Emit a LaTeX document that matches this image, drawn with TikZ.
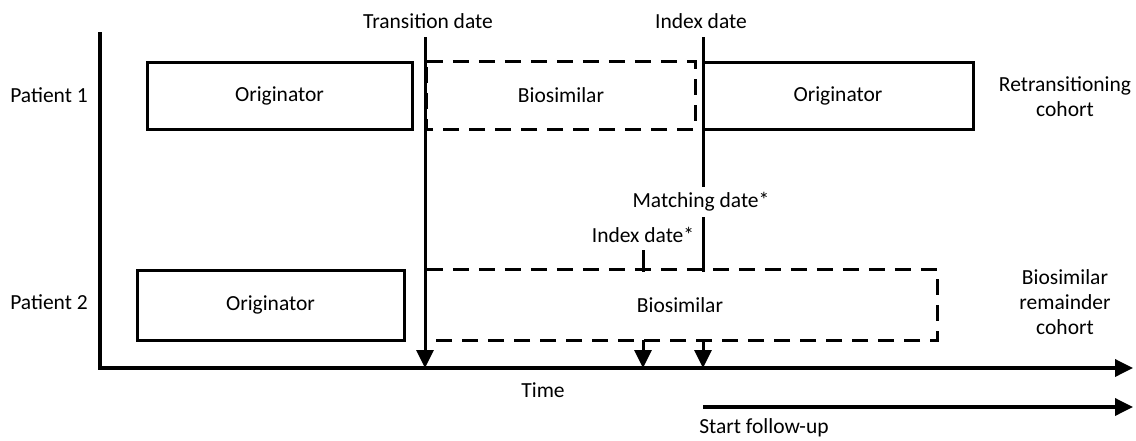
\documentclass[tikz,border=0pt]{standalone}
\usepackage{fontspec}
\setmainfont{Carlito}
\usetikzlibrary{arrows.meta}
\begin{document}
\begin{tikzpicture}[x=1pt,y=-1pt,
  every node/.style={font=\fontsize{21.5}{25}\selectfont, inner sep=0pt},
  solidbox/.style={draw, line width=3pt, minimum height=67pt},
  plainline/.style={line width=3pt},
  dashline/.style={line width=3pt, dash pattern=on 16pt off 10pt},
  tip/.style={-{Triangle[width=17pt,length=18pt]}},
  lbl/.style={align=center}
]
\useasboundingbox (0,0) rectangle (1136,440);

% axes
\coordinate (ytop) at (100,32);
\coordinate (orig) at (100,368);
\coordinate (xend) at (1133,368);
\draw[line width=3.5pt, tip] (ytop) -- (orig) -- (xend);

% patient labels
\node[anchor=base] (p1) at (49,102) {Patient 1};
\node[anchor=base] (p2) at (49,309) {Patient 2};

% patient 1 boxes
\node[solidbox, minimum width=265pt] (o1) at (279.5,95.5) {Originator};
\node[minimum width=268pt, minimum height=67pt] (b1) at (561,95.5) {Biosimilar};
\draw[dashline] (b1.north west) -- (b1.north east) -- (b1.south east) -- (b1.south west) -- cycle;
\node[solidbox, minimum width=270pt] (o3) at (838,95.5) {Originator};

% patient 2 boxes
\node[solidbox, minimum width=267pt, minimum height=70pt] (o2) at (270.5,305) {Originator};
\node[minimum width=510pt, minimum height=70pt] (b2) at (682,305) {};
\node (b2t) at (680,305) {Biosimilar};
\draw[dashline] (b2.north west) -- (b2.north east) -- (b2.south east) -- (b2.south west);

% transition date
\node[anchor=base] (trans) at (428,28) {Transition date};
\coordinate (tt) at (425,37);
\coordinate (tb) at (425,368);
\draw[plainline, tip] (tt) -- (tb);

% index date
\node[anchor=base] (idx) at (701,28) {Index date};
\coordinate (it) at (703,37);
\coordinate (ib) at (703,187);
\draw[plainline] (it) -- (ib);

\node[anchor=base] (match) at (701,207) {Matching date*};
\coordinate (mt) at (703,217);
\coordinate (mb) at (703,271.5);
\draw[plainline] (mt) -- (mb);
\coordinate (ma) at (703,340);
\coordinate (mx) at (703,368);
\draw[plainline, tip] (ma) -- (mx);

\node[anchor=base] (idxs) at (643,242) {Index date*};
\coordinate (st) at (643,250);
\coordinate (sb) at (643,271.5);
\draw[plainline] (st) -- (sb);
\coordinate (sa) at (643,340);
\coordinate (sx) at (643,368);
\draw[plainline, tip] (sa) -- (sx);

% right labels
\node[lbl] (rc) at (1065,97) {Retransitioning\\cohort};
\node[lbl] (bc) at (1065,302) {Biosimilar\\remainder\\cohort};

% time and follow-up
\node[anchor=base] (time) at (543,397) {Time};
\coordinate (fs) at (703,407);
\coordinate (fe) at (1133,407);
\draw[line width=3.5pt, tip] (fs) -- (fe);
\node[anchor=base] (fu) at (764,433) {Start follow-up};
\end{tikzpicture}
\end{document}
